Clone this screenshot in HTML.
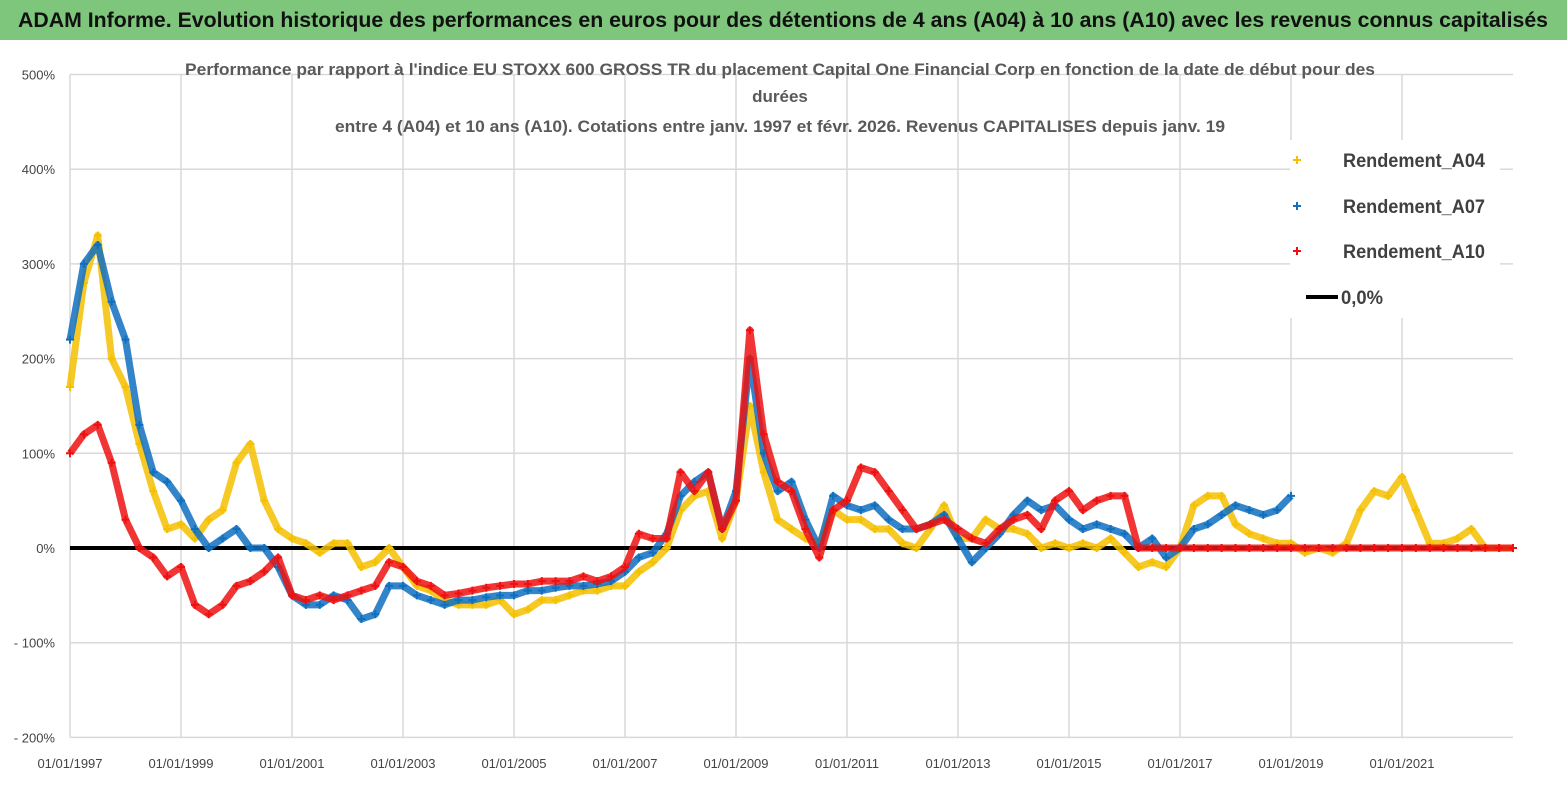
<!DOCTYPE html>
<html><head><meta charset="utf-8"><style>
body{margin:0;background:#fff;width:1567px;height:790px;overflow:hidden;font-family:"Liberation Sans",sans-serif}
</style></head><body>
<svg width="1567" height="40" style="position:absolute;left:0;top:0">
<rect x="0" y="0" width="1567" height="40" fill="#7dc67b"/>
<text x="18" y="27" font-size="21" font-weight="bold" fill="#111" textLength="1530" lengthAdjust="spacingAndGlyphs">ADAM Informe. Evolution historique des performances en euros pour des détentions de 4 ans (A04) à 10 ans (A10) avec les revenus connus capitalisés</text>
</svg>
<svg id="ch" width="1567" height="750" style="position:absolute;left:0;top:40px"></svg>
<script>
const startYear=1997, step=0.25;
const yTicks=[500,400,300,200,100,0,-100,-200];
const yTickLabels=["500%","400%","300%","200%","100%","0%","- 100%","- 200%"];
const xTickYears=[1997,1999,2001,2003,2005,2007,2009,2011,2013,2015,2017,2019,2021];
const a04=[170,280,330,200,170,110,60,20,25,10,30,40,90,110,50,20,10,5,-5,5,5,-20,-15,0,-20,-40,-45,-55,-60,-60,-60,-55,-70,-65,-55,-55,-50,-45,-45,-40,-40,-25,-15,0,40,55,60,10,50,150,80,30,20,10,5,40,30,30,20,20,5,0,20,45,10,10,30,20,20,15,0,5,0,5,0,10,-5,-20,-15,-20,0,45,55,55,25,15,10,5,5,-5,0,-5,5,40,60,55,75,40,5,5,10,20,0,0,0,0];
const a07=[220,300,320,260,220,130,80,70,50,20,0,10,20,0,0,-20,-50,-60,-60,-50,-55,-75,-70,-40,-40,-50,-55,-60,-55,-55,-52,-50,-50,-45,-45,-42,-40,-40,-38,-35,-25,-10,-5,15,55,70,80,20,60,200,100,60,70,30,0,55,45,40,45,30,20,20,25,35,10,-15,0,15,35,50,40,45,30,20,25,20,15,0,10,-10,0,20,25,35,45,40,35,40,55];
const a10=[100,120,130,90,30,0,-10,-30,-20,-60,-70,-60,-40,-35,-25,-10,-50,-55,-50,-55,-50,-45,-40,-15,-20,-35,-40,-50,-48,-45,-42,-40,-38,-38,-35,-35,-35,-30,-35,-30,-20,15,10,10,80,60,80,20,50,230,120,70,60,20,-10,40,50,85,80,60,40,20,25,30,20,10,5,20,30,35,20,50,60,40,50,55,55,0,0,0,0,0,0,0,0,0,0,0,0,0,0,0,0,0,0,0,0,0,0,0,0,0,0,0,0,0];
const X0=70,X1=1513,T0=1997,T1=2023;
const X=t=>X0+(t-T0)*(X1-X0)/(T1-T0);
const Y=v=>508-v*0.947;
const svg=document.getElementById('ch');const NS='http://www.w3.org/2000/svg';
function mk(tag,at,txt){const e=document.createElementNS(NS,tag);for(const k in at)e.setAttribute(k,at[k]);if(txt!==undefined)e.textContent=txt;svg.appendChild(e);return e;}
yTicks.forEach((v,i)=>{
 const l=mk('line',{x1:X0,x2:X1,y1:Y(v),y2:Y(v),stroke:'#d9d9d9','stroke-width':1.5});
 
 
 const t=mk('text',{x:55,y:Y(v)+5,'text-anchor':'end','font-size':13,fill:'#444'},yTickLabels[i]);
 
 
});
xTickYears.forEach(yr=>{
 const l=mk('line',{x1:X(yr),x2:X(yr),y1:Y(500),y2:Y(-200),stroke:'#d9d9d9','stroke-width':1.5});
 
 
 const t=mk('text',{x:X(yr),y:728,'text-anchor':'middle','font-size':13,fill:'#444'},'01/01/'+yr);
 
 
});
const z=mk('line',{x1:X0,x2:X1,y1:Y(0),y2:Y(0),stroke:'#000','stroke-width':4});


function series(arr,col,name){
 const pts=arr.map((v,i)=>[startYear+i*step,v]).filter(p=>p[0]<=T1).map(p=>[X(p[0]),Y(p[1])]);
 const p=mk('polyline',{points:pts.map(p=>p.join(',')).join(' '),fill:'none',stroke:col,'stroke-width':7,'stroke-linejoin':'round','stroke-opacity':0.85});
 
 
 pts.forEach(q=>{
  const m=mk('path',{d:`M${q[0]-4},${q[1]}h8M${q[0]},${q[1]-4}v8`,stroke:col,'stroke-width':2});
  
  
 });
}
series(a04,'#f5c000','rendement-a04');
series(a07,'#0f6fbf','rendement-a07');
series(a10,'#ee1010','rendement-a10');
[["Performance par rapport à l'indice EU STOXX 600 GROSS TR  du placement Capital One Financial Corp en fonction de la date de début pour des",35,1190],["durées",62,0],["entre 4 (A04) et 10 ans (A10).  Cotations entre janv. 1997 et févr. 2026. Revenus CAPITALISES depuis janv. 19",92,890]].forEach(([s,y,w])=>{
 const at={x:780,y:y,'text-anchor':'middle','font-size':17,'font-weight':'bold',fill:'#595959'};
 if(w){at.textLength=w;at.lengthAdjust='spacingAndGlyphs';}
 const t=mk('text',at,s);
 
 
});
const lg=mk('rect',{x:1290,y:100,width:210,height:178,fill:'#fff'});


[["Rendement_A04",'#f5c000',120],["Rendement_A07",'#0f6fbf',166],["Rendement_A10",'#ee1010',211]].forEach(([n,c,y])=>{
 const m=mk('path',{d:`M1293,${y}h8M1297,${y-4}v8`,stroke:c,'stroke-width':2});
 
 
 const t=mk('text',{x:1343,y:y+7,'font-size':19,'font-weight':'bold',fill:'#404040',textLength:142,lengthAdjust:'spacingAndGlyphs'},n);
 
 
});
const ll=mk('line',{x1:1306,x2:1338,y1:257,y2:257,stroke:'#000','stroke-width':4});


const lt=mk('text',{x:1341,y:264,'font-size':19,'font-weight':'bold',fill:'#404040',textLength:42,lengthAdjust:'spacingAndGlyphs'},'0,0%');


</script>
</body></html>
